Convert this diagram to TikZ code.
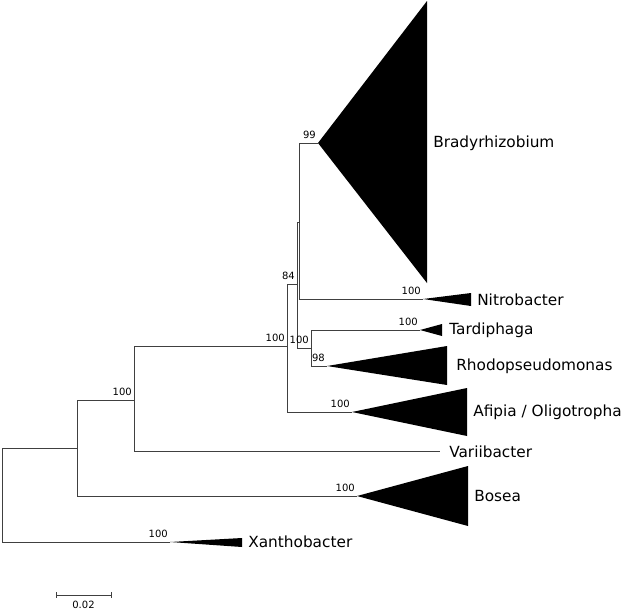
\documentclass[tikz,border=0pt]{standalone}
\usepackage{fontspec}
\setmainfont{DejaVu Sans}
\usetikzlibrary{positioning}

\begin{document}
\begin{tikzpicture}[x=0.75pt, y=-0.75pt,
  branch/.style={line width=0.75pt, draw=black!75},
  clade/.style={fill=black},
  support/.style={anchor=south east, inner sep=1.5pt, yshift=1.5pt, font=\fontsize{7.5}{9}\selectfont},
  taxon/.style={anchor=west, inner sep=1.5pt, font=\fontsize{11.5}{13}\selectfont}]

\useasboundingbox (0,0) rectangle (625,615);

% internal nodes
\coordinate (root) at (2,495);
\coordinate (nA) at (77,448);
\coordinate (nB) at (134,400);
\coordinate (nC) at (287,346);
\coordinate (nD) at (297,284);
\coordinate (nF) at (299,222);
\coordinate (nE) at (311,348);

% clade apexes and tips
\coordinate (brady) at (318,143);
\coordinate (nitro) at (423,299);
\coordinate (tardi) at (420,330);
\coordinate (rhodo) at (327,366);
\coordinate (afipia) at (352,412);
\coordinate (varii) at (440,451);
\coordinate (bosea) at (357,496);
\coordinate (xantho) at (170,542);

% branches
\draw[branch] (root) |- (nA);
\draw[branch] (root) |- (xantho);
\draw[branch] (nA) |- (nB);
\draw[branch] (nA) |- (bosea);
\draw[branch] (nB) |- (nC);
\draw[branch] (nB) |- (varii);
\draw[branch] (nC) |- (nD);
\draw[branch] (nC) |- (afipia);
\draw[branch] (nD) |- (nF);
\draw[branch] (nD) |- (nE);
\draw[branch] (nF) |- (brady);
\draw[branch] (nF) |- (nitro);
\draw[branch] (nE) |- (tardi);
\draw[branch] (nE) |- (rhodo);

% collapsed clades
\fill[clade] (brady) -- (427,1) -- (427,283) -- cycle;
\fill[clade] (nitro) -- (471,293) -- (471,306) -- cycle;
\fill[clade] (tardi) -- (442,324) -- (442,336) -- cycle;
\fill[clade] (rhodo) -- (447,346) -- (447,385) -- cycle;
\fill[clade] (afipia) -- (467,388) -- (467,436) -- cycle;
\fill[clade] (bosea) -- (468,466) -- (468,526) -- cycle;
\fill[clade] (xantho) -- (242,538) -- (242,547) -- cycle;

% taxon labels
\node[taxon] (lBrady) at (431,143) {Bradyrhizobium};
\node[taxon] (lNitro) at (475,300) {Nitrobacter};
\node[taxon] (lTardi) at (447,330) {Tardiphaga};
\node[taxon] (lRhodo) at (454,366) {Rhodopseudomonas};
\node[taxon] (lAfipia) at (471,412) {Afipia / Oligotropha};
\node[taxon] (lVarii) at (447,452) {Variibacter};
\node[taxon] (lBosea) at (472,496) {Bosea};
\node[taxon] (lXantho) at (246,542) {Xanthobacter};

% bootstrap support
\node[support] at (brady) {99};
\node[support] at (nD) {84};
\node[support] at (nC) {100};
\node[support] at (nE) {100};
\node[support] at (rhodo) {98};
\node[support] at (nitro) {100};
\node[support] at (tardi) {100};
\node[support] at (afipia) {100};
\node[support] at (nB) {100};
\node[support] at (bosea) {100};
\node[support] at (xantho) {100};

% scale bar
\coordinate (sbL) at (56,595);
\coordinate (sbR) at (111,595);
\coordinate (sbM) at (83.5,595);
\draw[branch] (sbL) -- (sbR);
\draw[branch] (sbL) ++(0,-3) -- ++(0,6);
\draw[branch] (sbR) ++(0,-3) -- ++(0,6);
\node[font=\fontsize{7.5}{9}\selectfont, below=1pt of sbM] (lScale) {0.02};

\end{tikzpicture}
\end{document}
